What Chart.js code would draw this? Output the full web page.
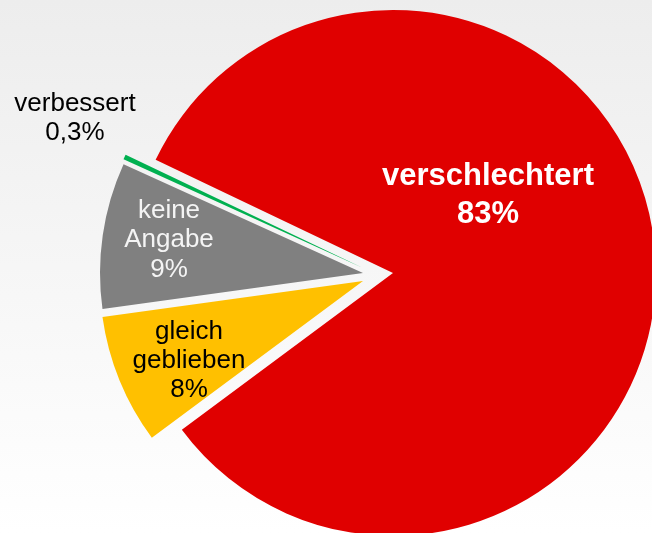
<!DOCTYPE html>
<html>
<head>
<meta charset="utf-8">
<script src="https://cdn.jsdelivr.net/npm/chart.js@4/dist/chart.umd.min.js"></script>
<style>
    html, body {
        margin: 0;
        padding: 0;
        width: 652px;
        height: 533px;
        overflow: hidden;
        background: linear-gradient(to bottom, #ededed 0%, #ffffff 100%);
    }
    #wrap {
        position: absolute;
        left: 0;
        top: 0;
    }
</style>
</head>
<body>
<div id="wrap"><canvas id="myChart" width="786" height="546"></canvas></div>
<script>
var categories = ["verschlechtert", "gleich geblieben", "keine Angabe", "verbessert"];
var values = [83, 8, 9, 0.3];
var valueLabels = ["83%", "8%", "9%", "0,3%"];
var colors = ["#e00000", "#ffc000", "#808080", "#00b050"];

// herausgezogene Stücke (Verschiebung in px, wie im Original nach links)
var explodePlugin = {
    id: "explode",
    afterDatasetsUpdate: function (chart) {
        var shift = [[0, 0], [-30, 8], [-30, 0], [-30, -5]];
        var arcs = chart.getDatasetMeta(0).data;
        for (var i = 0; i < arcs.length; i++) {
            arcs[i].x += shift[i][0];
            arcs[i].y += shift[i][1];
        }
    }
};

// Beschriftungen (Text, Position, Stil)
var labelPlugin = {
    id: "sliceLabels",
    afterDatasetsDraw: function (chart) {
        var ctx = chart.ctx;
        var spots = [
            {x: 488, y: [176, 214], color: "#ffffff", font: "bold 31px 'Liberation Sans', Arial, sans-serif", lines: ["verschlechtert"]},
            {x: 189, y: [332, 361, 390], color: "#000000", font: "26px 'Liberation Sans', Arial, sans-serif", lines: ["gleich", "geblieben"]},
            {x: 169, y: [211, 240, 270], color: "#f4f4f4", font: "26px 'Liberation Sans', Arial, sans-serif", lines: ["keine", "Angabe"]},
            {x: 75, y: [104, 133], color: "#000000", font: "26px 'Liberation Sans', Arial, sans-serif", lines: ["verbessert"]}
        ];
        ctx.save();
        ctx.textAlign = "center";
        ctx.textBaseline = "middle";
        for (var i = 0; i < spots.length; i++) {
            var s = spots[i];
            var txt = s.lines.concat([valueLabels[i]]);
            ctx.fillStyle = s.color;
            ctx.font = s.font;
            for (var j = 0; j < txt.length; j++) {
                ctx.fillText(txt[j], s.x, s.y[j]);
            }
        }
        ctx.restore();
    }
};

var ctx = document.getElementById("myChart").getContext("2d");
var myChart = new Chart(ctx, {
    type: "pie",
    data: {
        labels: categories,
        datasets: [{
            data: values,
            backgroundColor: colors,
            borderWidth: 0
        }]
    },
    options: {
        responsive: false,
        animation: false,
        rotation: 295.5,
        radius: 263,
        layout: {padding: 0},
        plugins: {
            legend: {display: false},
            tooltip: {enabled: false}
        }
    },
    plugins: [explodePlugin, labelPlugin]
});
</script>
</body>
</html>
